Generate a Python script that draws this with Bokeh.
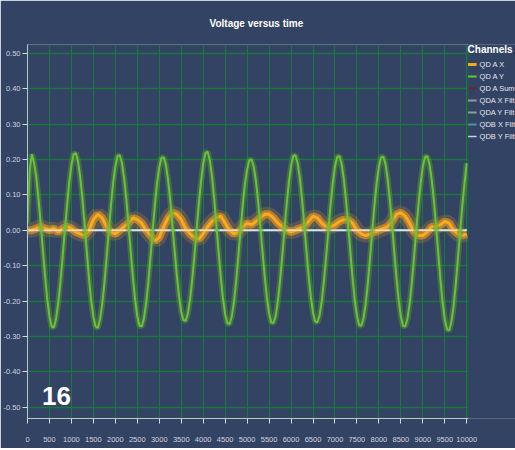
from bokeh.plotting import figure
from bokeh.models import FixedTicker, NumeralTickFormatter, Legend, LegendItem, Label, BoxAnnotation
from bokeh.embed import file_html
from bokeh.resources import INLINE

# ---------------- data ----------------
title_text = "Voltage versus time"
legend_title = "Channels"
channel_names = ["QD A X", "QD A Y", "QD A Sum", "QDA X Filt", "QDA Y Filt", "QDB X Filt", "QDB Y Filt"]
channel_colors = ["#ffa81c", "#6cc13a", "#8b1414", "#f2c4dc", "#c4dcc4", "#62c8e2", "#ffffff"]
x_ticks = [0, 500, 1000, 1500, 2000, 2500, 3000, 3500, 4000, 4500, 5000,
           5500, 6000, 6500, 7000, 7500, 8000, 8500, 9000, 9500, 10000]
y_ticks = [-0.5, -0.4, -0.3, -0.2, -0.1, 0.0, 0.1, 0.2, 0.3, 0.4, 0.5]
badge_text = "16"

# QD A Y, read every 50 samples
qda_y = [
    0.02, 0.17, 0.215, 0.19, 0.15, 0.09, 0.02, -0.055, -0.13, -0.195, -0.245, -0.272, -0.275, -0.25, -0.205, -0.145, -0.075, 0.0, 0.07, 0.135,
    0.185, 0.215, 0.218, 0.195, 0.15, 0.09, 0.015, -0.06, -0.135, -0.2, -0.245, -0.272, -0.276, -0.252, -0.21, -0.15, -0.078, -0.002, 0.07, 0.135,
    0.18, 0.21, 0.212, 0.19, 0.147, 0.088, 0.015, -0.06, -0.133, -0.197, -0.243, -0.27, -0.272, -0.25, -0.207, -0.148, -0.076, 0.0, 0.072, 0.133,
    0.178, 0.205, 0.206, 0.185, 0.143, 0.085, 0.013, -0.058, -0.128, -0.187, -0.23, -0.254, -0.256, -0.236, -0.197, -0.14, -0.072, 0.002, 0.074, 0.137,
    0.188, 0.218, 0.222, 0.198, 0.153, 0.09, 0.016, -0.06, -0.132, -0.193, -0.238, -0.263, -0.265, -0.244, -0.203, -0.145, -0.074, 0.0, 0.07, 0.13,
    0.172, 0.198, 0.2, 0.18, 0.14, 0.083, 0.013, -0.06, -0.13, -0.19, -0.235, -0.26, -0.262, -0.242, -0.2, -0.143, -0.073, 0.002, 0.073, 0.135,
    0.182, 0.21, 0.212, 0.19, 0.148, 0.088, 0.015, -0.058, -0.128, -0.188, -0.233, -0.258, -0.26, -0.24, -0.2, -0.142, -0.073, 0.0, 0.072, 0.134,
    0.18, 0.207, 0.21, 0.188, 0.146, 0.087, 0.015, -0.06, -0.133, -0.196, -0.242, -0.268, -0.27, -0.249, -0.207, -0.148, -0.076, 0.0, 0.072, 0.134,
    0.18, 0.206, 0.208, 0.187, 0.145, 0.086, 0.015, -0.061, -0.134, -0.197, -0.244, -0.27, -0.272, -0.25, -0.208, -0.148, -0.076, 0.0, 0.071, 0.133,
    0.18, 0.207, 0.209, 0.188, 0.146, 0.087, 0.015, -0.062, -0.138, -0.203, -0.252, -0.28, -0.283, -0.26, -0.215, -0.153, -0.079, -0.002, 0.07, 0.133,
    0.19,
]
qda_y_samples = list(range(0, 10001, 50))

# QD A X, read every 100 samples
qda_x = [
    0.0, 0.0, 0.005, 0.01, 0.005, 0.0, 0.005, -0.005, 0.005, 0.01,
    0.005, -0.005, -0.01, -0.015, 0.0, 0.03, 0.045, 0.035, 0.01, -0.005,
    -0.01, 0.0, 0.01, 0.02, 0.035, 0.03, 0.02, 0.0, -0.015, -0.03,
    -0.02, 0.01, 0.035, 0.05, 0.045, 0.03, 0.005, -0.01, -0.02, -0.025,
    -0.01, 0.01, 0.025, 0.035, 0.04, 0.02, 0.0, -0.01, -0.005, 0.01,
    0.02, 0.015, 0.025, 0.035, 0.045, 0.045, 0.035, 0.02, 0.01, 0.0,
    -0.005, 0.0, 0.005, 0.01, 0.025, 0.04, 0.035, 0.02, 0.01, 0.01,
    0.015, 0.025, 0.03, 0.03, 0.02, 0.0, -0.01, -0.015, -0.01, -0.005,
    0.0, 0.005, 0.01, 0.025, 0.045, 0.05, 0.04, 0.02, -0.005, -0.015,
    -0.015, -0.005, 0.01, 0.01, 0.015, 0.025, 0.02, 0.0, -0.01, -0.015,
    -0.01,
]
qda_x_samples = list(range(0, 10001, 100))

# flat channels (sum and filtered channels sit on zero)
flat_samples = [0, 10000]
qda_sum = [0.0, 0.0]
qda_x_filt = [0.0, 0.0]
qda_y_filt = [0.0, 0.0]
qdb_x_filt = [0.0, 0.0]
qdb_y_filt = [0.0, 0.0]

# ---------------- styling ----------------
BG = "#334363"
GRID = "#1a773d"
AXIS = "#d4d8e4"
FONT = "Liberation Sans"
X_END = 10030       # right edge of the plotted area
X_VIEW = 11110      # extra room inside the frame for the legend
Y_LO, Y_HI = -0.532, 0.525

p = figure(width=515, height=448, x_range=(0, X_VIEW), y_range=(Y_LO, Y_HI),
           output_backend="svg", toolbar_location=None,
           min_border_left=24, min_border_right=0, min_border_top=43, min_border_bottom=30,
           background_fill_color=BG, border_fill_color=BG)

p.title.text = title_text
p.title.align = "left"
p.title.offset = 182
p.title.text_color = "#ffffff"
p.title.text_font = FONT
p.title.text_font_size = "10px"
p.title.text_font_style = "bold"
p.title.standoff = 31

p.outline_line_color = None
p.xgrid.grid_line_color = GRID
p.ygrid.grid_line_color = GRID
p.ygrid.grid_line_width = 1.3

p.xaxis.ticker = FixedTicker(ticks=x_ticks)
p.xaxis.bounds = (0, X_END)
p.yaxis.ticker = FixedTicker(ticks=y_ticks)
p.yaxis.formatter = NumeralTickFormatter(format="0.00")
for ax in (p.xaxis, p.yaxis):
    ax.axis_line_color = AXIS
    ax.major_tick_line_color = AXIS
    ax.minor_tick_line_color = None
    ax.major_tick_out = 5
    ax.major_tick_in = 0
    ax.major_label_text_color = "#d0d4e0"
    ax.major_label_text_font = FONT
    ax.major_label_text_font_size = "7.5px"
p.xaxis.major_label_standoff = 13
p.yaxis.major_label_standoff = 2

# flat channels
flat_rs = []
for ys, col in zip([qda_sum, qda_x_filt, qda_y_filt, qdb_x_filt], channel_colors[2:6]):
    flat_rs.append(p.line(flat_samples, ys, line_color=col, line_width=2, line_alpha=0.6))

# QD A X (orange, noisy band)
p.line(qda_x_samples, qda_x, line_color="#d98a2c", line_width=15, line_alpha=0.25)
p.line(qda_x_samples, qda_x, line_color="#ffa81c", line_width=8, line_alpha=0.55)
r_x = p.line(qda_x_samples, qda_x, line_color=channel_colors[0], line_width=3)

# QDB Y filt (white zero line)
r_wy = p.line(flat_samples, qdb_y_filt, line_color="#e8e8f4", line_width=1.5, line_alpha=0.85)

# QD A Y (green)
p.line(qda_y_samples, qda_y, line_color="#58a02e", line_width=6, line_alpha=0.45)
r_y = p.line(qda_y_samples, qda_y, line_color=channel_colors[1], line_width=2)

# blank strip right of the plotted area (legend area) and the plot frame
p.add_layout(BoxAnnotation(left=X_END, fill_color=BG, fill_alpha=1, line_alpha=0))
p.add_layout(BoxAnnotation(left=0, right=X_END, bottom=Y_LO, top=Y_HI,
                           fill_alpha=0, line_color=GRID, line_width=2))

renderers = [r_x, r_y] + flat_rs + [r_wy]
legend = Legend(items=[LegendItem(label=n, renderers=[r]) for n, r in zip(channel_names, renderers)],
                location="top_right", title=legend_title,
                title_text_color="#ffffff", title_text_font=FONT, title_text_font_size="10px",
                title_text_font_style="bold", title_standoff=4,
                label_text_color="#e4e6ee", label_text_font=FONT, label_text_font_size="7.5px",
                glyph_width=9, glyph_height=10, label_height=10, label_standoff=3, spacing=2,
                padding=0, margin=0, background_fill_alpha=0, border_line_alpha=0)
p.add_layout(legend)

p.add_layout(Label(x=330, y=-0.495, text=badge_text, text_color="#ffffff",
                   text_font=FONT, text_font_size="26px", text_font_style="bold"))

open("out.html", "w").write(file_html(p, INLINE))
